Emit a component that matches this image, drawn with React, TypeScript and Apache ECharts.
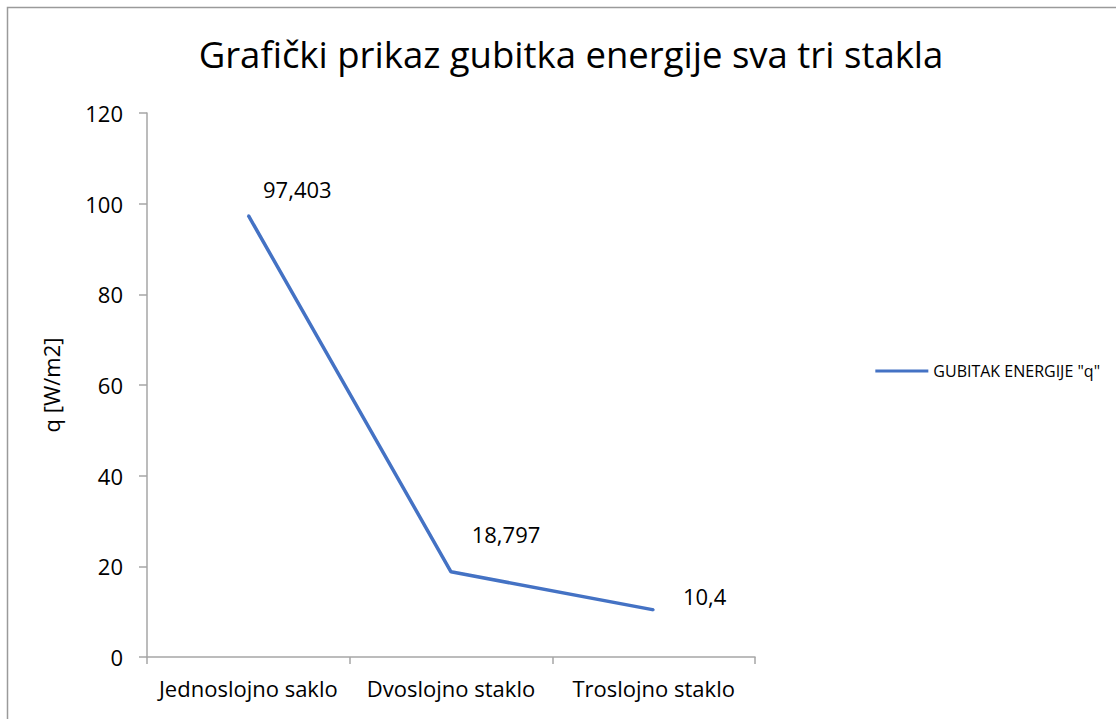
import React, { useEffect, useRef } from "react";
import * as echarts from "echarts";

const categories = ["Jednoslojno saklo", "Dvoslojno staklo", "Troslojno staklo"];
const values = [97.403, 18.797, 10.4];
const labelOffsets = [
  [49, -26],
  [55, -38],
  [51, -14],
];
const seriesName = 'GUBITAK ENERGIJE "q"';
const titleText = "Grafički prikaz gubitka energije sva tri stakla";
const yAxisName = "q [W/m2]";

const FONT = "'Open Sans', 'Noto Sans', sans-serif";

export default function App() {
  const ref = useRef<HTMLDivElement>(null);
  useEffect(() => {
    if (!ref.current) return;
    const chart = echarts.init(ref.current, undefined, { renderer: "svg" });
    chart.setOption({
      animation: false,
      backgroundColor: "#fff",
      textStyle: { fontFamily: FONT },
      title: {
        text: titleText,
        left: 566,
        textAlign: "center",
        top: 30,
        textStyle: { fontFamily: FONT, fontSize: 36.5, fontWeight: "normal", color: "#000" },
      },
      graphic: [
        {
          type: "rect",
          shape: { x: 7.5, y: 7.5, width: 1200, height: 800 },
          style: { fill: "none", stroke: "#9a9a9a", lineWidth: 1.5 },
          silent: true,
        },
      ],
      legend: {
        right: 16,
        top: 363,
        padding: 0,
        icon: "rect",
        itemWidth: 53,
        itemHeight: 3,
        itemGap: 5,
        textStyle: { fontFamily: FONT, fontSize: 16, color: "#000" },
        data: [seriesName],
      },
      grid: { left: 147, right: 361, top: 113, bottom: 62, containLabel: false },
      xAxis: {
        type: "category",
        data: categories,
        boundaryGap: true,
        axisLine: { show: true, lineStyle: { color: "#a6a6a6", width: 1.5 } },
        axisTick: { show: true, length: 7, alignWithLabel: false, lineStyle: { color: "#a6a6a6", width: 1.5 } },
        axisLabel: { fontFamily: FONT, fontSize: 22, color: "#000", margin: 20, interval: 0 },
        splitLine: { show: false },
      },
      yAxis: {
        type: "value",
        min: 0,
        max: 120,
        interval: 20,
        name: yAxisName,
        nameLocation: "middle",
        nameRotate: 90,
        nameGap: 85,
        nameTextStyle: { fontFamily: FONT, fontSize: 22, color: "#000" },
        axisLine: { show: true, lineStyle: { color: "#a6a6a6", width: 1.5 } },
        axisTick: { show: true, length: 8, lineStyle: { color: "#a6a6a6", width: 1.5 } },
        axisLabel: { fontFamily: FONT, fontSize: 22, color: "#000", margin: 24 },
        splitLine: { show: false },
      },
      series: [
        {
          name: seriesName,
          type: "line",
          symbol: "circle",
          symbolSize: 2,
          showSymbol: true,
          itemStyle: { color: "#4472C4" },
          lineStyle: { color: "#4472C4", width: 3.5 },
          label: {
            show: true,
            position: "inside",
            fontFamily: FONT,
            fontSize: 22,
            color: "#000",
            formatter: (p: any) => String(p.value).replace(".", ","),
          },
          data: values.map((v, i) => ({
            value: v,
            label: { offset: labelOffsets[i] },
          })),
        },
      ],
    });
    return () => chart.dispose();
  }, []);
  return (
    <div
      ref={ref}
      style={{ position: "absolute", left: 0, top: 0, width: 1116, height: 719 }}
    />
  );
}
